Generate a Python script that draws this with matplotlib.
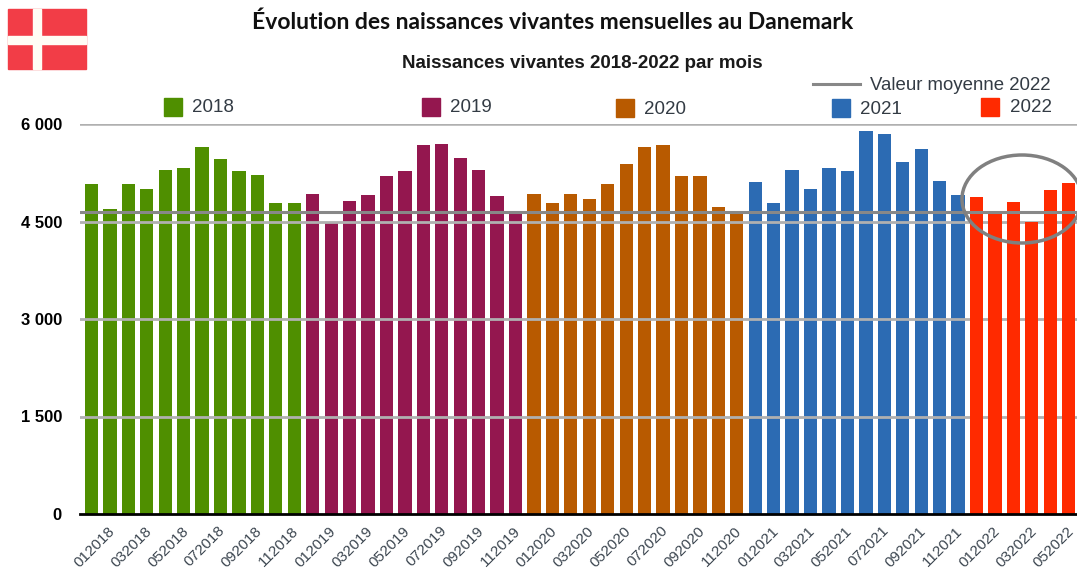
import matplotlib
matplotlib.use('Agg')
import matplotlib.pyplot as plt
from matplotlib.patches import Rectangle, Ellipse
from matplotlib.transforms import ScaledTranslation

W, H = 1077, 571

years = ['2018', '2019', '2020', '2021', '2022']
colors = ['#4f8f00', '#94174f', '#b85a00', '#2c6bb3', '#ff2a00']

v2018 = [5080, 4690, 5080, 5000, 5290, 5320, 5650, 5460, 5270, 5220, 4780, 4780]
v2019 = [4930, 4500, 4810, 4910, 5200, 5270, 5680, 5700, 5480, 5290, 4890, 4650]
v2020 = [4930, 4790, 4930, 4840, 5080, 5390, 5650, 5680, 5200, 5200, 4720, 4650]
v2021 = [5110, 4790, 5300, 5000, 5320, 5270, 5890, 5850, 5410, 5610, 5130, 4910]
v2022 = [4880, 4650, 4800, 4500, 4980, 5100]
series = [v2018, v2019, v2020, v2021, v2022]

mean_2022 = 4650
y_ticks = [0, 1500, 3000, 4500, 6000]
y_labels = ['0', '1 500', '3 000', '4 500', '6 000']


def fx(x):
    return x / W


def fy(y):
    return 1 - y / H


fig = plt.figure(figsize=(W / 100, H / 100), dpi=100)
plt.rcParams['font.family'] = ['Liberation Sans', 'DejaVu Sans']

# axes placed in pixels: y=0 at 514, y=6000 at 124
ax = fig.add_axes([fx(80), fy(514), fx(W - 80), 390 / H])
ax.set_ylim(0, 6000)
ax.set_xlim(-0.62, 53.45)
for s in ax.spines.values():
    s.set_visible(False)
ax.spines['bottom'].set_visible(True)
ax.spines['bottom'].set_linewidth(2)
ax.spines['bottom'].set_color('black')
ax.spines['bottom'].set_zorder(6)

labels = []
i = 0
for year, vals, col in zip(years, series, colors):
    xs = list(range(i, i + len(vals)))
    # grid passes over the bars except for 2022
    z = 4 if year == '2022' else 2
    ax.bar(xs, vals, width=0.72, color=col, zorder=z)
    for m in range(len(vals)):
        labels.append('%02d%s' % (m + 1, year))
    i += len(vals)

for t in y_ticks[1:]:
    ax.axhline(t, color='#b0b0b0', lw=1.8 if t == 6000 else 2, zorder=3)
ax.axhline(mean_2022, color='#888888', lw=2.2, zorder=5)

ticks = list(range(0, 53, 2))
ax.set_xticks(ticks)
ax.set_xticklabels([labels[k] for k in ticks], rotation=45, ha='right',
                   rotation_mode='anchor', fontsize=11, color='#3c4650')
ax.tick_params(axis='x', length=0, pad=7)
for lab in ax.get_xticklabels():
    lab.set_transform(lab.get_transform() + ScaledTranslation(16 / 100, 0, fig.dpi_scale_trans))
ax.set_yticks(y_ticks)
ax.set_yticklabels(y_labels, fontsize=12, fontweight='bold', color='black')
ax.tick_params(axis='y', length=0, pad=13)

# flag
fig.patches.append(Rectangle((fx(8), fy(69)), 78 / W, 60 / H, transform=fig.transFigure, color='#f23d47'))
fig.patches.append(Rectangle((fx(33), fy(69)), 8 / W, 60 / H, transform=fig.transFigure, color='#fffdf5'))
fig.patches.append(Rectangle((fx(8), fy(44)), 78 / W, 8 / H, transform=fig.transFigure, color='#fffdf5'))

fig.text(fx(553), fy(22), 'Évolution des naissances vivantes mensuelles au Danemark',
         ha='center', va='center', fontsize=16.5, fontweight='bold', family='Lato', color='#111111')
fig.text(fx(582), fy(64), 'Naissances vivantes 2018-2022 par mois',
         ha='center', va='center', fontsize=13.5, fontweight='bold', color='#1a1a1a')

# legend
leg_box = [164, 422, 616, 832, 981]
leg_txt = [192, 450, 644, 860, 1010]
leg_box_y = [107, 107, 108, 108, 107]
leg_txt_y = [106, 106, 107, 108, 105]
for bx, tx, by, ty, year, col in zip(leg_box, leg_txt, leg_box_y, leg_txt_y, years, colors):
    fig.patches.append(Rectangle((fx(bx), fy(by + 9)), 18 / W, 18 / H, transform=fig.transFigure, color=col))
    fig.text(fx(tx), fy(ty), year, ha='left', va='center_baseline', fontsize=13.5, color='#333b44')

fig.add_artist(plt.Line2D([fx(813), fx(860)], [fy(84), fy(84)], color='#888888', lw=2.2))
fig.text(fx(870), fy(84), 'Valeur moyenne 2022', ha='left', va='center_baseline', fontsize=13.4, color='#333b44')

# circle around the 2022 bars, goes off the right edge
fig.add_artist(Ellipse((fx(1022), fy(199)), 120 / W, 88 / H, transform=fig.transFigure,
                       fill=False, ec='#808080', lw=2.5))

fig.savefig('out.png', dpi=100)
